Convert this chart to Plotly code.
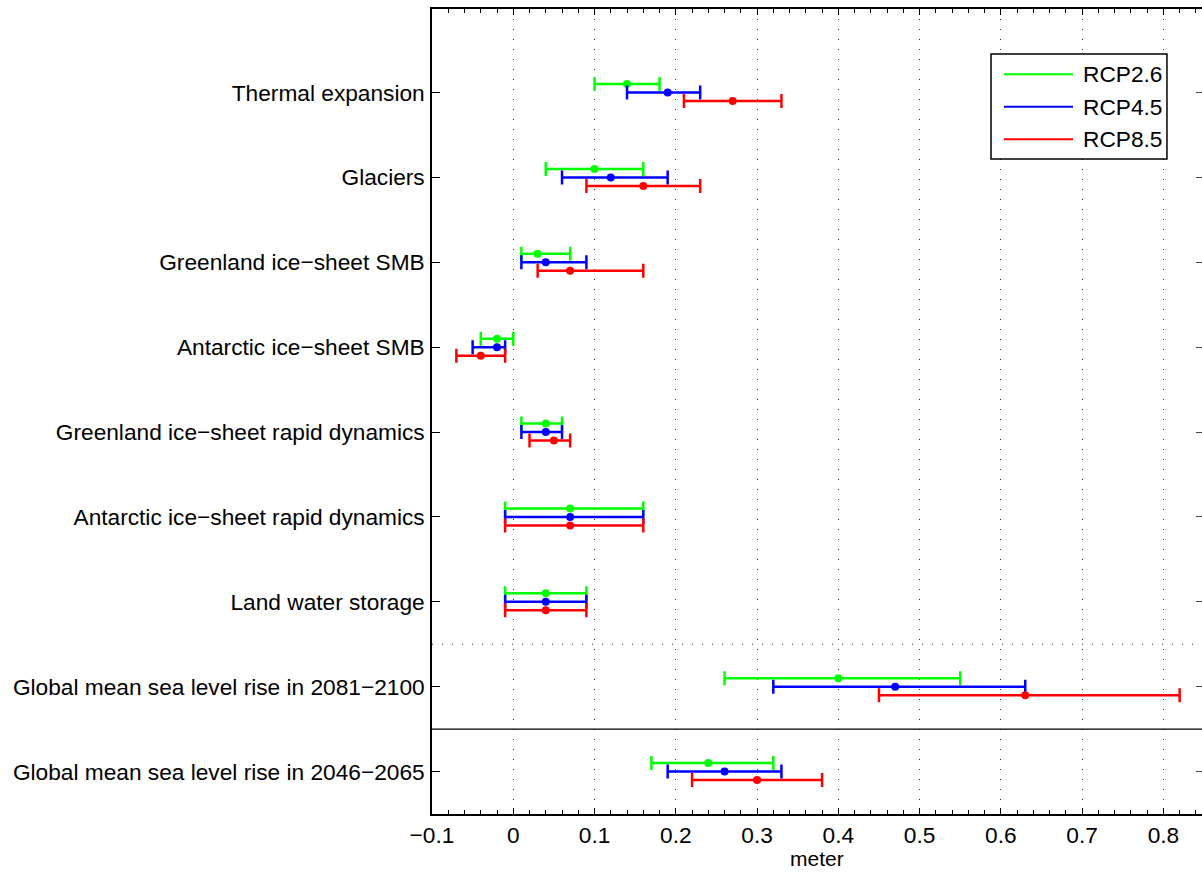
import plotly.graph_objects as go

categories = [
    "Thermal expansion",
    "Glaciers",
    "Greenland ice−sheet SMB",
    "Antarctic ice−sheet SMB",
    "Greenland ice−sheet rapid dynamics",
    "Antarctic ice−sheet rapid dynamics",
    "Land water storage",
    "Global mean sea level rise in 2081−2100",
    "Global mean sea level rise in 2046−2065",
]

rcp26_mid = [0.14, 0.10, 0.03, -0.02, 0.04, 0.07, 0.04, 0.40, 0.24]
rcp26_low = [0.10, 0.04, 0.01, -0.04, 0.01, -0.01, -0.01, 0.26, 0.17]
rcp26_high = [0.18, 0.16, 0.07, 0.00, 0.06, 0.16, 0.09, 0.55, 0.32]

rcp45_mid = [0.19, 0.12, 0.04, -0.02, 0.04, 0.07, 0.04, 0.47, 0.26]
rcp45_low = [0.14, 0.06, 0.01, -0.05, 0.01, -0.01, -0.01, 0.32, 0.19]
rcp45_high = [0.23, 0.19, 0.09, -0.01, 0.06, 0.16, 0.09, 0.63, 0.33]

rcp85_mid = [0.27, 0.16, 0.07, -0.04, 0.05, 0.07, 0.04, 0.63, 0.30]
rcp85_low = [0.21, 0.09, 0.03, -0.07, 0.02, -0.01, -0.01, 0.45, 0.22]
rcp85_high = [0.33, 0.23, 0.16, -0.01, 0.07, 0.16, 0.09, 0.82, 0.38]

series_names = ["RCP2.6", "RCP4.5", "RCP8.5"]
x_tick_vals = [-0.1, 0, 0.1, 0.2, 0.3, 0.4, 0.5, 0.6, 0.7, 0.8]
x_tick_text = ["−0.1", "0", "0.1", "0.2", "0.3", "0.4", "0.5", "0.6", "0.7", "0.8"]
x_title = "meter"

colors = ["#00ff00", "#0000ff", "#ff0000"]
offsets = [-0.1, 0.0, 0.1]
FONT = "Liberation Sans, Arial, Helvetica, sans-serif"
FS = 22.7

fig = go.Figure()
all_series = [
    (rcp26_mid, rcp26_low, rcp26_high),
    (rcp45_mid, rcp45_low, rcp45_high),
    (rcp85_mid, rcp85_low, rcp85_high),
]
for (mid, low, high), name, col, off in zip(all_series, series_names, colors, offsets):
    ys = [i + off for i in range(len(categories))]
    fig.add_trace(go.Scatter(
        x=mid, y=ys, mode="markers", name=name, showlegend=False,
        marker=dict(color=col, size=8, symbol="circle"),
        error_x=dict(type="data", symmetric=False,
                     array=[h - m for h, m in zip(high, mid)],
                     arrayminus=[m - l for m, l in zip(mid, low)],
                     color=col, thickness=2.5, width=7),
    ))

# dummy trace for right-side tick axis
fig.add_trace(go.Scatter(x=[None], y=[None], yaxis="y2", showlegend=False, hoverinfo="skip"))

yrange = [8.5, -0.985]
xrange_ = [-0.1, 0.8475]

fig.update_layout(
    width=1202, height=872,
    margin=dict(l=432, r=0, t=9, b=58),
    paper_bgcolor="white", plot_bgcolor="white",
    font=dict(family=FONT, size=FS, color="black"),
    xaxis=dict(
        range=xrange_, tickvals=x_tick_vals, ticktext=x_tick_text, automargin=False,
        showgrid=True, gridcolor="#333333", gridwidth=1, griddash="1px,9px",
        zeroline=False, showline=True, linecolor="black", linewidth=1.5,
        mirror="ticks", ticks="inside", ticklen=6, tickcolor="black", tickwidth=1,
        minor=dict(ticks="inside", dtick=0.02, tick0=0, ticklen=4, tickcolor="black", showgrid=False),
        tickfont=dict(size=FS, family=FONT, color="black"),
    ),
    yaxis=dict(
        range=yrange, tickvals=list(range(len(categories))), ticktext=categories, automargin=False,
        showgrid=False, zeroline=False, showline=True, linecolor="black", linewidth=1.5,
        ticks="inside", ticklen=8, tickcolor="black", tickwidth=1,
        tickfont=dict(size=FS, family=FONT, color="black"), ticklabelstandoff=1,
    ),
    yaxis2=dict(
        range=yrange, overlaying="y", side="right", tickvals=list(range(len(categories))),
        showticklabels=False, showgrid=False, zeroline=False, showline=False, automargin=False,
        ticks="inside", ticklen=6, tickcolor="#444444", tickwidth=1,
    ),
    showlegend=False,
)

# x-axis title
fig.add_annotation(xref="paper", yref="paper", x=0.5, y=0, yshift=-44, text=x_title, showarrow=False,
                   xanchor="center", yanchor="middle", font=dict(size=21, family=FONT, color="black"))

# separators between groups
fig.add_shape(type="line", xref="paper", yref="y", x0=0, x1=1, y0=6.5, y1=6.5,
              line=dict(color="#333333", width=1, dash="1px,9px"), layer="below")
fig.add_shape(type="line", xref="paper", yref="y", x0=0, x1=1, y0=7.5, y1=7.5,
              line=dict(color="black", width=1.2))

# manual legend
lx0, lx1, ly0, ly1 = 0.726, 0.9545, 0.8137, 0.944
fig.add_shape(type="rect", xref="paper", yref="paper", x0=lx0, x1=lx1, y0=ly0, y1=ly1,
              line=dict(color="black", width=1.5), fillcolor="white", layer="above")
row_y = [0.9189, 0.8786, 0.8381]
for name, col, ry in zip(series_names, colors, row_y):
    fig.add_shape(type="line", xref="paper", yref="paper", x0=0.7429, x1=0.8325, y0=ry, y1=ry,
                  line=dict(color=col, width=2), layer="above")
    fig.add_annotation(xref="paper", yref="paper", x=0.8429, y=ry, text=name, showarrow=False,
                       xanchor="left", yanchor="middle", font=dict(size=FS, family=FONT, color="black"))

fig.write_html("out.html")
